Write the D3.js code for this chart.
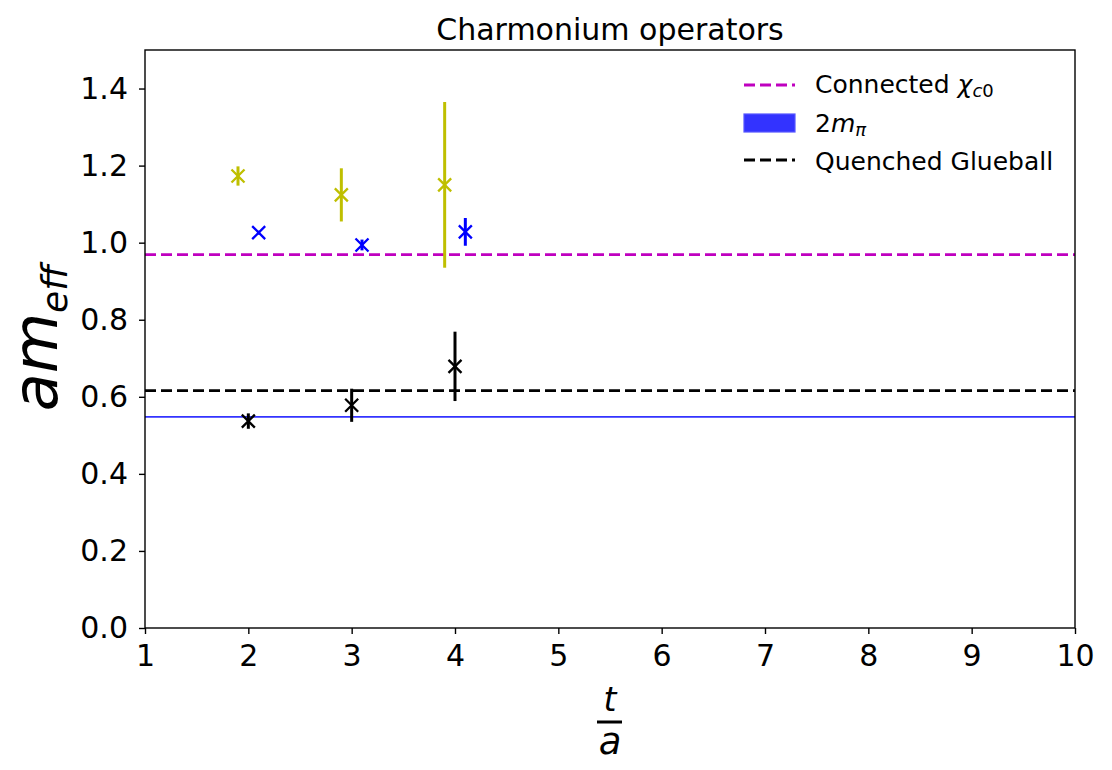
<!DOCTYPE html>
<html><head><meta charset="utf-8">
<script src="https://cdn.jsdelivr.net/npm/d3@7"></script>
<style>body{margin:0;background:#fff;} text{font-family:"DejaVu Sans",sans-serif;}</style>
</head><body>
<svg id="c" width="1112" height="770"></svg>
<script>
const xTicks = [1,2,3,4,5,6,7,8,9,10];
const yTicks = [0.0,0.2,0.4,0.6,0.8,1.0,1.2,1.4];
// yellow series
const yelT = [1.9, 2.9, 3.9];
const yelV = [1.173, 1.124, 1.150];
const yelE = [0.025, 0.069, 0.215];
// blue series
const bluT = [2.1, 3.1, 4.1];
const bluV = [1.026, 0.994, 1.028];
const bluE = [0.005, 0.014, 0.036];
// black series
const blkT = [2.0, 3.0, 4.0];
const blkV = [0.537, 0.578, 0.679];
const blkE = [0.020, 0.043, 0.090];
const chiC0 = 0.969;
const glueball = 0.616;
const twoMpi = 0.548, twoMpiErr = 0.002;

const svg = d3.select("#c");
const L=145, R=1075, T=50, B=628;
const x = d3.scaleLinear().domain([1,10]).range([L,R]);
const y = d3.scaleLinear().domain([0,1.5]).range([B,T]);
const DASH = "11,5";

// band
svg.append("rect").attr("x",L).attr("width",R-L)
  .attr("y",y(twoMpi+twoMpiErr)).attr("height",y(twoMpi-twoMpiErr)-y(twoMpi+twoMpiErr))
  .attr("fill","#3333ff").attr("fill-opacity",0.8);
svg.append("line").attr("x1",L).attr("x2",R).attr("y1",y(twoMpi)).attr("y2",y(twoMpi))
  .attr("stroke","#3333ff").attr("stroke-width",1.5);
// hlines
svg.append("line").attr("x1",L).attr("x2",R).attr("y1",y(chiC0)).attr("y2",y(chiC0))
  .attr("stroke","#bf00bf").attr("stroke-width",2.8).attr("stroke-dasharray",DASH);
svg.append("line").attr("x1",L).attr("x2",R).attr("y1",y(glueball)).attr("y2",y(glueball))
  .attr("stroke","#000").attr("stroke-width",2.8).attr("stroke-dasharray",DASH);

function series(ts, vs, es, col){
  const g = svg.append("g");
  ts.forEach((t,i)=>{
    const cx=x(t), cy=y(vs[i]);
    g.append("line").attr("x1",cx).attr("x2",cx).attr("y1",y(vs[i]+es[i])).attr("y2",y(vs[i]-es[i]))
      .attr("stroke",col).attr("stroke-width",3);
    const s=6.5;
    g.append("path").attr("d",`M${cx-s},${cy-s}L${cx+s},${cy+s}M${cx-s},${cy+s}L${cx+s},${cy-s}`)
      .attr("stroke",col).attr("stroke-width",2.3);
  });
}
series(yelT,yelV,yelE,"#bfbf00");
series(bluT,bluV,bluE,"#0000ff");
series(blkT,blkV,blkE,"#000000");

// axes
const xa = svg.append("g").attr("transform",`translate(0,${B})`)
  .call(d3.axisBottom(x).tickValues(xTicks).tickFormat(d3.format("d")).tickSize(6).tickPadding(11).tickSizeOuter(0));
const ya = svg.append("g").attr("transform",`translate(${L},0)`)
  .call(d3.axisLeft(y).tickValues(yTicks).tickFormat(d3.format(".1f")).tickSize(6).tickPadding(11).tickSizeOuter(0));
[xa,ya].forEach(a=>{
  a.selectAll("text").attr("font-size",30).attr("font-family","DejaVu Sans").attr("fill","#000");
  a.selectAll("line").attr("stroke","#000").attr("stroke-width",1.4);
  a.select(".domain").remove();
});
svg.append("rect").attr("x",L).attr("y",T).attr("width",R-L).attr("height",B-T)
  .attr("fill","none").attr("stroke","#000").attr("stroke-width",1.4);

// title
svg.append("text").attr("x",(L+R)/2).attr("y",40).attr("text-anchor","middle")
  .attr("font-size",30).text("Charmonium operators");

// y label
const yl = svg.append("text").attr("transform","translate(57,338) rotate(-90)")
  .attr("text-anchor","middle").attr("font-style","italic").attr("font-size",62);
yl.append("tspan").text("am");
yl.append("tspan").attr("font-size",36).attr("dy",10).text("eff");

// x label fraction
const xc = (L+R)/2;
svg.append("text").attr("x",xc).attr("y",711).attr("text-anchor","middle")
  .attr("font-style","italic").attr("font-size",33).text("t");
svg.append("line").attr("x1",xc-13).attr("x2",xc+12).attr("y1",722).attr("y2",722)
  .attr("stroke","#000").attr("stroke-width",3);
svg.append("text").attr("x",xc).attr("y",754).attr("text-anchor","middle")
  .attr("font-style","italic").attr("font-size",37).text("a");

// legend
const lg = svg.append("g");
lg.append("line").attr("x1",744).attr("x2",795).attr("y1",85).attr("y2",85)
  .attr("stroke","#bf00bf").attr("stroke-width",2.8).attr("stroke-dasharray",DASH);
lg.append("rect").attr("x",744).attr("y",114).attr("width",51).attr("height",18)
  .attr("fill","#3333ff").attr("stroke","#5555ff").attr("stroke-width",1.2);
lg.append("line").attr("x1",744).attr("x2",795).attr("y1",160).attr("y2",160)
  .attr("stroke","#000").attr("stroke-width",2.8).attr("stroke-dasharray",DASH);
const t1 = lg.append("text").attr("x",815).attr("y",93).attr("font-size",25);
t1.append("tspan").text("Connected ");
t1.append("tspan").attr("font-style","italic").text("χ");
t1.append("tspan").attr("font-style","italic").attr("font-size",18).attr("dy",4).text("c");
t1.append("tspan").attr("font-size",18).text("0");
const t2 = lg.append("text").attr("x",815).attr("y",132).attr("font-size",25);
t2.append("tspan").text("2");
t2.append("tspan").attr("font-style","italic").text("m");
t2.append("tspan").attr("font-style","italic").attr("font-size",18).attr("dy",4).text("π");
lg.append("text").attr("x",815).attr("y",170).attr("font-size",25).text("Quenched Glueball");
</script>
</body></html>
